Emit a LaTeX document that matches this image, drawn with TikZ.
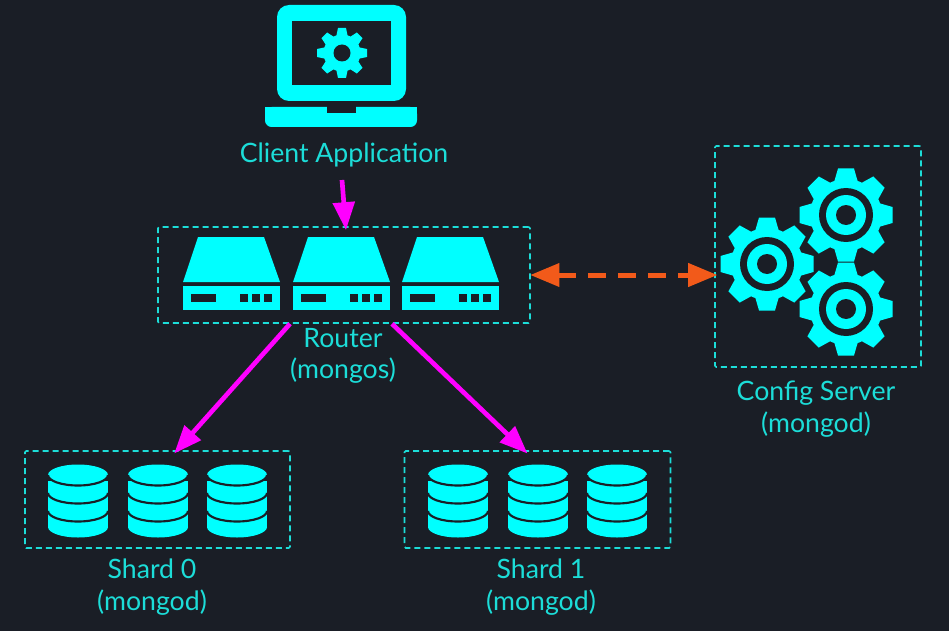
\documentclass[tikz,border=0pt]{standalone}
\usepackage{fontspec}
\setmainfont{Lato}
\usetikzlibrary{arrows.meta}
\definecolor{bgdark}{HTML}{1A1E26}
\definecolor{iconcyan}{HTML}{00FFFF}
\definecolor{textcyan}{HTML}{1CDDD8}
\definecolor{pushpink}{HTML}{FF00FF}
\definecolor{syncorange}{HTML}{F25A1A}
\newcommand{\cogteeth}[3]{% body radius, outer radius, half tooth width at tip
  \fill[iconcyan] (0,0) circle (#1);
  \foreach \a in {0,45,...,315}
    \fill[iconcyan, rotate=\a] (-#3*1.45,-#1+2) -- (-#3,-#2) -- (#3,-#2) -- (#3*1.45,-#1+2) -- cycle;
}
\tikzset{
  dashbox/.style={draw=textcyan, dashed, dash pattern=on 4.5pt off 3pt, line width=1.2pt, rounded corners=1pt, rectangle, inner sep=0},
  caption/.style={text=textcyan, align=center, inner sep=0, font=\fontsize{20}{23.5}\selectfont},
  pushline/.style={draw=pushpink, line width=3.5pt, -{Triangle[length=21pt, width=16pt]}},
  syncline/.style={draw=syncorange, line width=3.75pt, dash pattern=on 13.5pt off 9pt, {Triangle[length=22pt, width=17pt]}-{Triangle[length=22pt, width=17pt]}},
  pics/bigcog/.style={code={
    \cogteeth{36}{46.5}{8}
    \fill[bgdark] (0,0) circle (27);
    \fill[iconcyan] (0,0) circle (20);
    \fill[bgdark] (0,0) circle (10);
  }},
  pics/smallcog/.style={code={
    \cogteeth{18.5}{25}{4}
    \fill[bgdark] (0,0) circle (8.5);
  }},
  pics/servericon/.style={code={
    \fill[iconcyan] (15,-38) -- (81,-38) -- (97,7) -- (0,7) -- cycle;
    \fill[iconcyan] (0,11) rectangle (97,35);
    \fill[bgdark] (8,19) rectangle (33,27);
    \foreach \k in {57,69,81}
      \fill[bgdark] (\k,19) rectangle +(8,8);
  }},
  pics/dbicon/.style={code={
    \fill[iconcyan] (-30,6) rectangle (30,52);
    \fill[iconcyan] (0,52) ellipse [x radius=30, y radius=10.5];
    \fill[iconcyan] (0,0) ellipse [x radius=30, y radius=10.5];
    \foreach \cy in {0,18,36}
      \draw[bgdark, line width=1.6pt] (-30,\cy) arc [start angle=180, end angle=0, x radius=30, y radius=10.5];
  }}
}
\begin{document}
\begin{tikzpicture}[x=0.75pt, y=-0.75pt]
  \fill[bgdark] (0,0) rectangle (949,631);
  \useasboundingbox (0,0) rectangle (949,631);

  % client laptop
  \fill[iconcyan, rounded corners=9pt] (277,5) rectangle (406,101);
  \fill[bgdark] (292,21) rectangle (391,85);
  \fill[iconcyan, rounded corners=5pt] (265,107) -- (265,127) -- (417,127) -- (417,107) -- cycle;
  \fill[iconcyan] (265,107) rectangle (417,115);
  \fill[bgdark] (327,106) rectangle (356,113);
  \pic at (342,53) {smallcog};
  \node[caption] (applabel) at (344,155) {Client Application};
  \coordinate (appout) at (342,180);

  % dashed groups
  \node[dashbox, minimum width=279pt, minimum height=72pt] (router) at (344,275) {};
  \node[dashbox, minimum width=154.5pt, minimum height=165.75pt] (config) at (818,256.5) {};
  \node[dashbox, minimum width=198.75pt, minimum height=72.75pt] (shard0) at (157.5,499.5) {};
  \node[dashbox, minimum width=199.5pt, minimum height=72.75pt] (shard1) at (537.5,499.5) {};

  % icons
  \foreach \sx in {183,293,402}
    \pic at (\sx,275) {servericon};
  \pic at (846,215) {bigcog};
  \pic at (846,309) {bigcog};
  \pic at (767,264) {bigcog};
  \foreach \dx in {78,158,237}
    \pic at (\dx,475) {dbicon};
  \foreach \dx in {458,538,617}
    \pic at (\dx,475) {dbicon};

  % labels
  \node[caption] (routerlabel) at (343,356) {Router\\(mongos)};
  \node[caption] (configlabel) at (816,409) {Config Server\\(mongod)};
  \node[caption] (shard0label) at (152,587) {Shard 0\\(mongod)};
  \node[caption] (shard1label) at (541,587) {Shard 1\\(mongod)};

  % connectors
  \draw[pushline] (appout) -- ([xshift=1.5pt, yshift=-3pt]router.north);
  \draw[pushline] ([xshift=-40.5pt]router.south) -- ([xshift=12.5pt, yshift=-2.5pt]shard0.north);
  \draw[pushline] ([xshift=36pt]router.south) -- ([xshift=-7.5pt, yshift=-2.5pt]shard1.north);
  \draw[syncline] ([xshift=-0.5pt]router.east) -- ([xshift=2.5pt]router.east -| config.west);
\end{tikzpicture}
\end{document}
